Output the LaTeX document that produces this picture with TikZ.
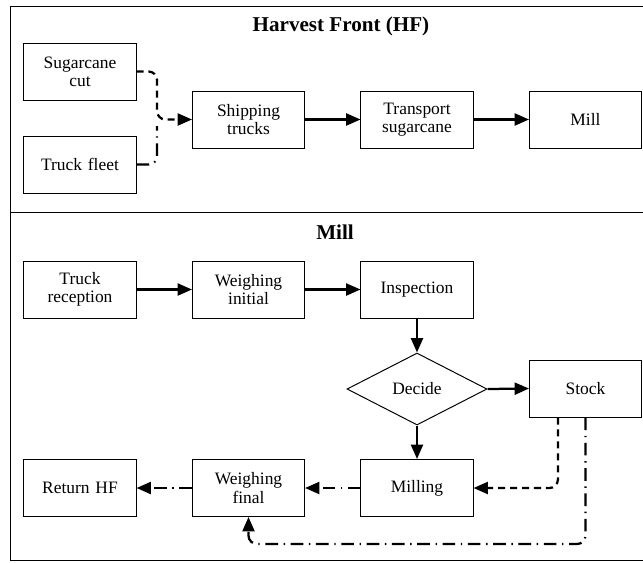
\documentclass[tikz,border=0pt]{standalone}
\usepackage{fontspec}
\setmainfont{Liberation Serif}
\usetikzlibrary{arrows.meta,shapes.geometric}

\tikzset{
	stepbox/.style={draw, line width=0.7pt, minimum width=2.8cm, minimum height=1.425cm, inner sep=1pt, text width=2.7cm, align=center, font=\rmfamily\fontsize{12.4}{13}\selectfont},
	decidebox/.style={draw, diamond, line width=0.7pt, minimum width=3.5cm, minimum height=1.8cm, inner sep=0pt, font=\rmfamily\fontsize{12.4}{13}\selectfont},
	flow/.style={line width=1.6pt, -{Triangle[length=0.36cm, width=0.3cm]}},
	flowdash/.style={flow, dash pattern=on 5pt off 3.5pt},
	flowdashdot/.style={flow, dash pattern=on 9pt off 4pt on 1pt off 4pt},
	title/.style={font=\rmfamily\fontsize{15}{17}\selectfont\bfseries}
}

\begin{document}
\begin{tikzpicture}[x=0.025cm, y=-0.025cm]
		\useasboundingbox ( 0, 0 ) rectangle ( 643, 562 );

		% рамка
		\draw [line width=0.7pt] ( 643, 6 ) -- ( 10, 6 ) -- ( 10, 560 ) -- ( 643, 560 );
		\draw [line width=0.7pt] ( 10, 212 ) -- ( 643, 212 );

		% фронт уборки
		\node [title] (hftitle) at ( 341, 26 ) {Harvest Front (HF)};
		\node [stepbox] (cut) at ( 80, 71.5 ) {Sugarcane\\cut};
		\node [stepbox] (fleet) at ( 80, 164.5 ) {Truck fleet};
		\node [stepbox] (ship) at ( 248.5, 119.5 ) {Shipping\\trucks};
		\node [stepbox] (transport) at ( 417, 119.5 ) {Transport\\sugarcane};
		\node [stepbox] (hfmill) at ( 585.5, 119.5 ) {Mill};
		\coordinate (merge) at ( 157, 119.5 );
		\coordinate (mergeb) at ( 157, 126 );

		\draw [flowdash, rounded corners=6] (cut.east) -| (merge) -- (ship.west);
		\draw [flowdashdot, -, rounded corners=6] (fleet.east) -| (mergeb);
		\draw [flow] (ship) -- (transport);
		\draw [flow] (transport) -- (hfmill);

		% завод
		\node [title] (milltitle) at ( 335, 232 ) {Mill};
		\node [stepbox] (reception) at ( 80, 289.5 ) {Truck\\reception};
		\node [stepbox] (weighin) at ( 248.5, 289.5 ) {Weighing\\initial};
		\node [stepbox] (inspect) at ( 417, 289.5 ) {Inspection};
		\node [decidebox] (decide) at ( 417, 389 ) {Decide};
		\node [stepbox] (stock) at ( 585.5, 388.5 ) {Stock};
		\node [stepbox] (milling) at ( 417, 488 ) {Milling};
		\node [stepbox] (weighout) at ( 248.5, 488 ) {Weighing\\final};
		\node [stepbox] (back) at ( 80, 488 ) {Return HF};
		\coordinate (low) at ( 0, 544 );

		\draw [flow] (reception) -- (weighin);
		\draw [flow] (weighin) -- (inspect);
		\draw [flow] (inspect) -- (decide.north);
		\draw [flow] (decide.east) -- (stock.west);
		\draw [flow] (decide.south) -- (milling);
		\draw [flowdash, rounded corners=6] ([xshift=-0.69cm]stock.south) |- (milling.east);
		\draw [flowdashdot, rounded corners=6] (stock.south) -- (stock.south |- low) -- (weighout.south |- low) -- (weighout.south);
		\draw [flowdashdot] (milling) -- (weighout);
		\draw [flowdashdot] (weighout) -- (back);
	\end{tikzpicture}
\end{document}
